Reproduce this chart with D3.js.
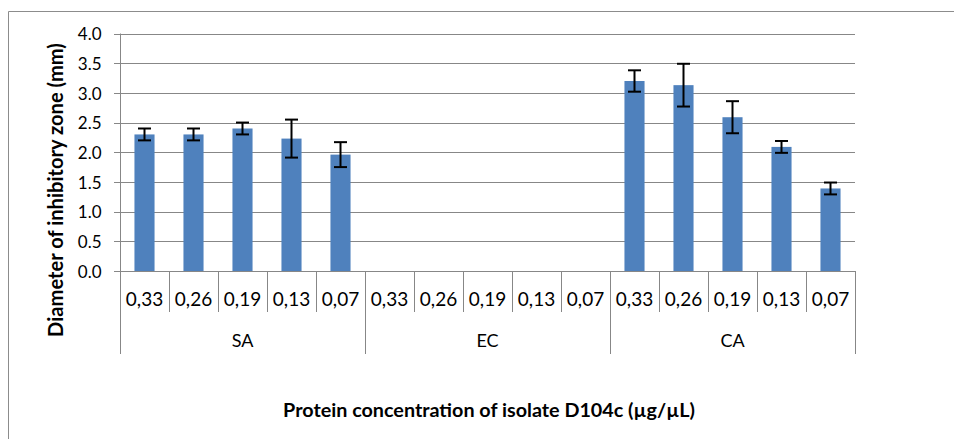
<!DOCTYPE html>
<html><head><meta charset="utf-8">
<script src="https://cdn.jsdelivr.net/npm/d3@7"></script>
<style>
html,body{margin:0;padding:0;background:#fff;}
svg{display:block;font-family:Lato,"Open Sans",sans-serif;}
</style></head>
<body>
<svg id="chart" width="954" height="439"></svg>
<script>
const groups = ["SA", "EC", "CA"];
const concentrations = ["0,33", "0,26", "0,19", "0,13", "0,07"];
const saValues = [2.30, 2.30, 2.40, 2.23, 1.96];
const saErrors = [0.10, 0.10, 0.10, 0.32, 0.21];
const ecValues = [0, 0, 0, 0, 0];
const ecErrors = [null, null, null, null, null];
const caValues = [3.20, 3.13, 2.59, 2.09, 1.39];
const caErrors = [0.18, 0.36, 0.27, 0.10, 0.10];
const yTicks = [0, 0.5, 1.0, 1.5, 2.0, 2.5, 3.0, 3.5, 4.0];
const yTitle = "Diameter of inhibitory zone (mm)";
const xTitle = "Protein concentration of isolate D104c (µg/µL)";

const valuesByGroup = {SA: saValues, EC: ecValues, CA: caValues};
const errorsByGroup = {SA: saErrors, EC: ecErrors, CA: caErrors};
const rows = [];
groups.forEach(g => concentrations.forEach((c, i) => {
  rows.push({key: g + "|" + c, group: g, conc: c, value: valuesByGroup[g][i], err: errorsByGroup[g][i]});
}));

const svg = d3.select("#chart");
const L = 120, R = 855, T = 33.5, B = 271;
const gridColor = "#878787";

// outer frame
svg.append("path").attr("d", "M8.5,439 V11.5 H954").attr("fill", "none").attr("stroke", "#8c8c8c").attr("stroke-width", 1);

const x = d3.scaleBand().domain(rows.map(d => d.key)).range([L, R]).paddingInner(0).paddingOuter(0);
const y = d3.scaleLinear().domain([0, 4]).range([B, T]);

// gridlines
svg.append("g").selectAll("line").data(yTicks).join("line")
  .attr("x1", L - 6).attr("x2", R)
  .attr("y1", d => Math.round(y(d)) + 0.5).attr("y2", d => Math.round(y(d)) + 0.5)
  .attr("stroke", gridColor).attr("stroke-width", 1);

// y axis
const yAxis = d3.axisLeft(y).tickValues(yTicks).tickFormat(d3.format(".1f")).tickSize(0).tickPadding(0);
const ya = svg.append("g").attr("transform", `translate(${L + 0.5},0)`).call(yAxis);
ya.select(".domain").remove();
ya.selectAll("text").attr("x", -19).attr("dy", "0.36em").attr("font-size", 17).attr("fill", "#000").attr("font-family", "Lato");
svg.append("line").attr("x1", L + 0.5).attr("x2", L + 0.5).attr("y1", T).attr("y2", 354).attr("stroke", gridColor);

// bars
const barW = x.bandwidth() * 0.41;
svg.append("g").selectAll("rect").data(rows.filter(d => d.value > 0)).join("rect")
  .attr("x", d => x(d.key) + (x.bandwidth() - barW) / 2)
  .attr("y", d => y(d.value))
  .attr("width", barW)
  .attr("height", d => y(0) - y(d.value))
  .attr("fill", "#4F81BD");

// error bars
const eb = svg.append("g").attr("stroke", "#000").attr("stroke-width", 2);
rows.filter(d => d.err != null).forEach(d => {
  const cx = x(d.key) + x.bandwidth() / 2;
  const y1 = y(d.value + d.err), y2 = y(d.value - d.err);
  eb.append("line").attr("x1", cx).attr("x2", cx).attr("y1", y1).attr("y2", y2);
  eb.append("line").attr("x1", cx - 6.5).attr("x2", cx + 6.5).attr("y1", y1).attr("y2", y1);
  eb.append("line").attr("x1", cx - 6.5).attr("x2", cx + 6.5).attr("y1", y2).attr("y2", y2);
});

// x axis: category separators
const bounds = rows.map((d, i) => i).concat([rows.length]);
svg.append("g").selectAll("line").data(bounds).join("line")
  .attr("x1", i => Math.round(L + i * x.step()) + 0.5)
  .attr("x2", i => Math.round(L + i * x.step()) + 0.5)
  .attr("y1", B)
  .attr("y2", i => i % concentrations.length === 0 ? 354 : 312)
  .attr("stroke", gridColor);

// concentration labels
svg.append("g").selectAll("text").data(rows).join("text")
  .attr("x", d => x(d.key) + x.bandwidth() / 2)
  .attr("y", 299).attr("dy", "0.36em")
  .attr("text-anchor", "middle").attr("font-size", 19).attr("fill", "#000")
  .text(d => d.conc);

// group labels
const gScale = d3.scaleBand().domain(groups).range([L, R]);
svg.append("g").selectAll("text").data(groups).join("text")
  .attr("x", g => gScale(g) + gScale.bandwidth() / 2)
  .attr("y", 341).attr("dy", "0.36em")
  .attr("text-anchor", "middle").attr("font-size", 18).attr("fill", "#000")
  .text(g => g);

// titles, sized to match the reference lengths
function fitText(sel, targetLen, baseSize) {
  sel.attr("font-size", baseSize);
  const len = sel.node().getComputedTextLength();
  if (len > 0) sel.attr("font-size", baseSize * targetLen / len);
}
const xt = svg.append("text").attr("x", (L + R) / 2 + 1.5).attr("y", 417)
  .attr("text-anchor", "middle").attr("font-weight", "bold")
  .attr("fill", "#000").text(xTitle);
fitText(xt, 412, 17);
const yt = svg.append("text").attr("transform", "translate(63,190) rotate(-90)")
  .attr("text-anchor", "middle").attr("font-weight", "bold")
  .attr("fill", "#000").text(yTitle);
fitText(yt, 294, 17);
</script>
</body></html>
